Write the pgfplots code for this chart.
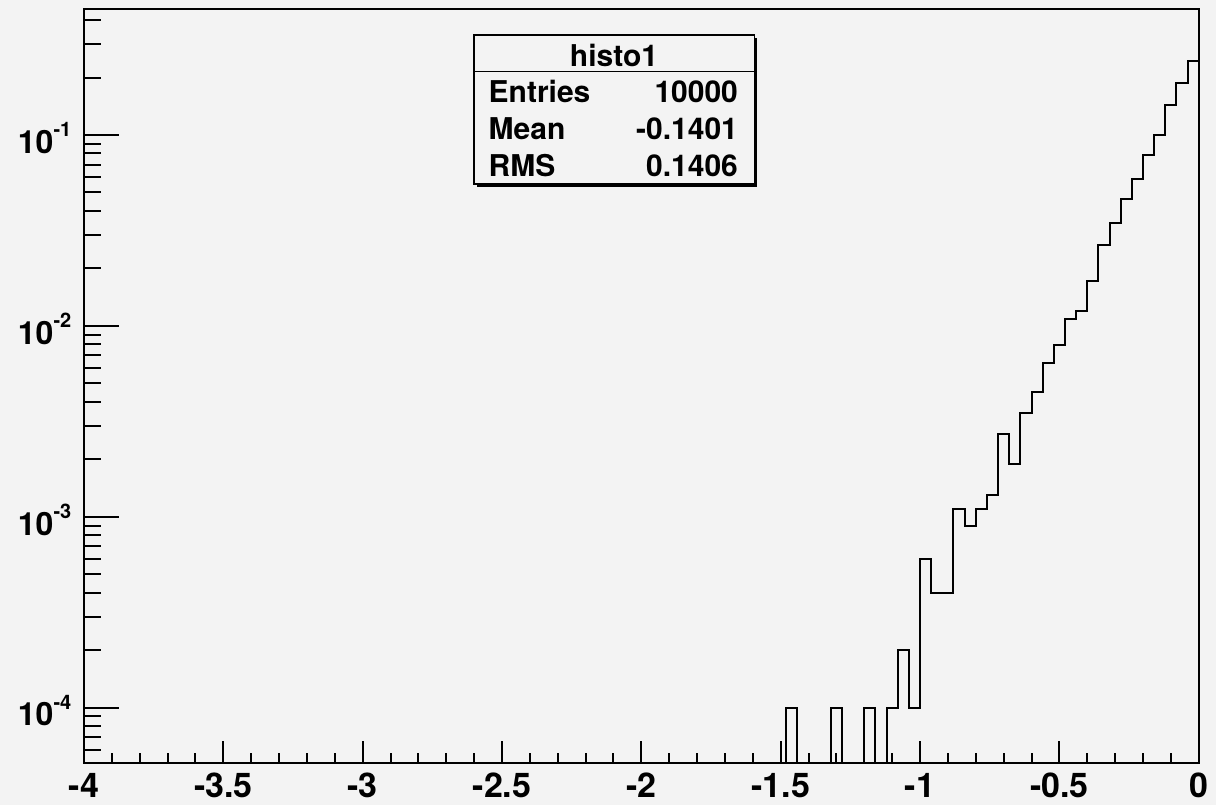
\documentclass[border=0pt]{standalone}
\usepackage{pgfplots}
\usepackage{pgfplotstable}
\pgfplotsset{compat=1.18}
\usepackage{fontspec}
\setmainfont{TeX Gyre Heros}
\definecolor{bg}{HTML}{F3F3F3}

% bin left edge, normalized content (empty bins set below ymin)
\pgfplotstableread{
x y
-1.52 1e-6
-1.48 0.0001
-1.44 1e-6
-1.40 1e-6
-1.36 1e-6
-1.32 0.0001
-1.28 1e-6
-1.24 1e-6
-1.20 0.0001
-1.16 1e-6
-1.12 0.0001
-1.08 0.0002
-1.04 0.0001
-1.00 0.0006
-0.96 0.0004
-0.92 0.0004
-0.88 0.0011
-0.84 0.0009
-0.80 0.0011
-0.76 0.0013
-0.72 0.0027
-0.68 0.0019
-0.64 0.0035
-0.60 0.0045
-0.56 0.0064
-0.52 0.0079
-0.48 0.0109
-0.44 0.0120
-0.40 0.0172
-0.36 0.0265
-0.32 0.0346
-0.28 0.0460
-0.24 0.0588
-0.20 0.0785
-0.16 0.1000
-0.12 0.1436
-0.08 0.1879
-0.04 0.2449
0.00 1e-6
}\histo

\newcommand{\ylab}[1]{10\raisebox{8.3pt}{\fontsize{10}{10}\selectfont #1}}

\begin{document}
\begin{tikzpicture}
\fill[bg] (0,0) rectangle (608pt,402.5pt);
\useasboundingbox (0,0) rectangle (608pt,402.5pt);
\begin{axis}[
  at={(42pt,20.85pt)}, anchor=south west,
  scale only axis, width=557.35pt, height=377.15pt,
  xmin=-4, xmax=0, ymode=log, ymin=5.11e-5, ymax=0.457,
  xtick=\empty,
  ytick={1e-4,1e-3,1e-2,1e-1},
  yticklabels={\ylab{-4},\ylab{-3},\ylab{-2},\ylab{-1}},
  minor ytick={6e-5,7e-5,8e-5,9e-5,2e-4,3e-4,4e-4,5e-4,6e-4,7e-4,8e-4,9e-4,2e-3,3e-3,4e-3,5e-3,6e-3,7e-3,8e-3,9e-3,2e-2,3e-2,4e-2,5e-2,6e-2,7e-2,8e-2,9e-2,2e-1,3e-1,4e-1},
  ytick pos=left,
  tick align=inside,
  major tick length=17.5pt, minor tick length=8.3pt,
  yticklabel style={font=\fontsize{16}{16}\selectfont\bfseries, anchor=east, inner sep=0pt, xshift=-6.15pt, yshift=-1.5pt},
  axis line style={line width=1pt},
  every tick/.style={black, line width=1pt},
]
\addplot[const plot, black, line width=1pt, line join=miter] table[x=x,y=y] {\histo};
\end{axis}
\begin{axis}[
  at={(42pt,20.85pt)}, anchor=south west,
  scale only axis, width=557.35pt, height=377.15pt,
  xmin=-4, xmax=0, ymin=0, ymax=1,
  ytick=\empty,
  xtick={-4,-3.5,-3,-2.5,-2,-1.5,-1,-0.5,0},
  xticklabels={-4,-3.5,-3,-2.5,-2,-1.5,-1,-0.5,0},
  minor x tick num=4,
  xtick pos=bottom,
  tick align=inside,
  major tick length=11.3pt, minor tick length=5.3pt,
  xticklabel style={font=\fontsize{17}{17}\selectfont\bfseries, anchor=north, inner sep=0pt, yshift=-4.7pt},
  axis line style={line width=1pt},
  every tick/.style={black, line width=1pt},
]
\end{axis}
\begin{scope}[x=0.5pt,y=0.5pt]
  \fill[black] (477,618) rectangle (757.3,767);
  \filldraw[fill=bg, draw=black, line width=0.7pt] (474,621) rectangle (754.3,770);
  \draw[black, line width=0.7pt] (474,733.3) -- (754.3,733.3);
  \begin{scope}[every node/.style={inner sep=0pt, font=\fontsize{15}{15}\selectfont\bfseries}]
    \node[anchor=base] at (614,738.3) {histo1};
    \node[anchor=base west] at (488.3,702.3) {Entries};
    \node[anchor=base east] at (738.3,702.3) {10000};
    \node[anchor=base west] at (488.3,665) {Mean};
    \node[anchor=base east] at (738.3,665) {-0.1401};
    \node[anchor=base west] at (488.3,628.3) {RMS};
    \node[anchor=base east] at (738.3,628.3) {0.1406};
  \end{scope}
\end{scope}
\end{tikzpicture}
\end{document}
